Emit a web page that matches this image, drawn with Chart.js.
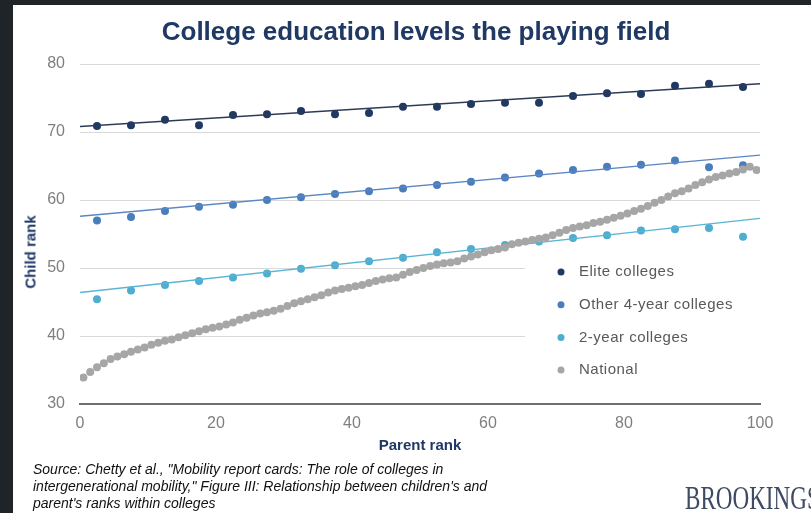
<!DOCTYPE html>
<html>
<head>
<meta charset="utf-8">
<script src="https://cdn.jsdelivr.net/npm/chart.js@4.4.1/dist/chart.umd.min.js"></script>
<style>
  html, body { margin: 0; padding: 0; }
  body { width: 811px; height: 513px; background: #1e2427; position: relative; overflow: hidden; }
  #panel { position: absolute; left: 13px; top: 5px; right: 0; bottom: 0; background: #fff; }
  #wrap { position: absolute; left: 0; top: 0; width: 811px; height: 513px; }
  .title { position: absolute; left: 0; width: 832px; top: 16px; line-height: 30px; text-align: center;
           font: bold 26px "Liberation Sans", Arial, sans-serif; color: #1f3864; }
  .ytitle { position: absolute; left: 30px; top: 252px; transform: translate(-50%, -50%) rotate(-90deg);
            font: bold 15px "Liberation Sans", Arial, sans-serif; color: #1f3864; white-space: nowrap; }
  .source { position: absolute; left: 33px; top: 461px; font: italic 14px "Liberation Sans", Arial, sans-serif;
            line-height: 17px; color: #111; }
  .logo { position: absolute; left: 685px; top: 482px; font: 33px "Liberation Serif", serif; color: #3d4b63;
          transform: scaleX(0.7); transform-origin: left top; white-space: nowrap; line-height: 33px; }
</style>
</head>
<body>
<div id="panel"></div>
<div id="wrap"><canvas id="chart" width="811" height="513"></canvas></div>
<div class="title">College education levels the playing field</div>
<div class="ytitle">Child rank</div>
<div class="source">Source: Chetty et al., "Mobility report cards: The role of colleges in<br>intergenerational mobility," Figure III: Relationship between children's and<br>parent's ranks within colleges</div>
<div class="logo">BROOKINGS</div>
<script>
// parent rank bins used for the college groups (5-point bins)
const BIN_CENTERS = [2.5, 7.5, 12.5, 17.5, 22.5, 27.5, 32.5, 37.5, 42.5, 47.5,
                     52.5, 57.5, 62.5, 67.5, 72.5, 77.5, 82.5, 87.5, 92.5, 97.5];

const ELITE = [70.9, 71.0, 71.8, 71.0, 72.5, 72.6, 73.1, 72.6, 72.8, 73.7,
               73.7, 74.1, 74.3, 74.3, 75.3, 75.7, 75.6, 76.8, 77.1, 76.6];
const OTHER_4YR = [57.0, 57.5, 58.4, 59.0, 59.3, 60.0, 60.4, 60.9, 61.3, 61.7,
                   62.2, 62.7, 63.3, 63.9, 64.4, 64.9, 65.2, 65.8, 64.8, 65.1];
const TWO_YEAR = [45.4, 46.7, 47.5, 48.1, 48.6, 49.2, 49.9, 50.4, 51.0, 51.5,
                  52.3, 52.8, 53.4, 53.9, 54.4, 54.8, 55.5, 55.7, 55.9, 54.6];

// national: one point per parent percentile (plotted at the percentile midpoint)
const NATIONAL_RANKS = [0.5, 1.5, 2.5, 3.5, 4.5, 5.5, 6.5, 7.5, 8.5, 9.5,
  10.5, 11.5, 12.5, 13.5, 14.5, 15.5, 16.5, 17.5, 18.5, 19.5,
  20.5, 21.5, 22.5, 23.5, 24.5, 25.5, 26.5, 27.5, 28.5, 29.5,
  30.5, 31.5, 32.5, 33.5, 34.5, 35.5, 36.5, 37.5, 38.5, 39.5,
  40.5, 41.5, 42.5, 43.5, 44.5, 45.5, 46.5, 47.5, 48.5, 49.5,
  50.5, 51.5, 52.5, 53.5, 54.5, 55.5, 56.5, 57.5, 58.5, 59.5,
  60.5, 61.5, 62.5, 63.5, 64.5, 65.5, 66.5, 67.5, 68.5, 69.5,
  70.5, 71.5, 72.5, 73.5, 74.5, 75.5, 76.5, 77.5, 78.5, 79.5,
  80.5, 81.5, 82.5, 83.5, 84.5, 85.5, 86.5, 87.5, 88.5, 89.5,
  90.5, 91.5, 92.5, 93.5, 94.5, 95.5, 96.5, 97.5, 98.5, 99.5];
const NATIONAL = [33.9, 34.7, 35.4, 36.0, 36.6, 37.0, 37.3, 37.7, 38.0, 38.3,
  38.7, 39.0, 39.3, 39.5, 39.8, 40.1, 40.4, 40.7, 41.0, 41.2,
  41.4, 41.7, 42.0, 42.4, 42.7, 43.0, 43.3, 43.5, 43.7, 44.0,
  44.4, 44.8, 45.1, 45.4, 45.7, 46.0, 46.4, 46.7, 46.9, 47.1,
  47.3, 47.5, 47.8, 48.1, 48.3, 48.5, 48.6, 49.0, 49.4, 49.7,
  50.0, 50.3, 50.5, 50.7, 50.8, 51.0, 51.4, 51.7, 52.0, 52.3,
  52.6, 52.8, 53.0, 53.5, 53.7, 53.9, 54.1, 54.3, 54.5, 54.8,
  55.2, 55.6, 55.9, 56.1, 56.3, 56.6, 56.8, 57.1, 57.4, 57.7,
  58.0, 58.4, 58.7, 59.1, 59.6, 60.0, 60.5, 61.0, 61.3, 61.7,
  62.2, 62.6, 63.0, 63.4, 63.6, 63.9, 64.1, 64.5, 64.9, 64.4];

// linear trend lines, value at parent rank 0 and 100
const TREND_X = [0, 100];
const ELITE_TREND = [70.8, 77.1];
const OTHER_TREND = [57.6, 66.6];
const TWO_YEAR_TREND = [46.4, 57.3];

const X_TICKS = [0, 20, 40, 60, 80, 100];
const Y_TICKS = [30, 40, 50, 60, 70, 80];

const LEGEND_ORDER = ['Elite colleges', 'Other 4-year colleges', '2-year colleges', 'National'];

const COLORS = {
  elite: '#1f3864',
  other: '#4a7ebb',
  two:   '#4fadcf',
  nat:   '#a6a6a6',
};

const pts = (xs, ys) => ys.map((y, i) => ({ x: xs[i], y }));

function scatter(label, xs, ys, color, order) {
  return {
    type: 'scatter', label, data: pts(xs, ys), order,
    backgroundColor: color, borderWidth: 0, pointRadius: 4, pointHoverRadius: 4,
  };
}

function trend(xs, ys, color) {
  return {
    type: 'line', label: '', data: pts(xs, ys), order: 1,
    borderColor: color, borderWidth: 1.4, pointRadius: 0, fill: false, showLine: true,
  };
}

// legend box drawn inside plot area, white background hides the grid
const insideLegend = {
  id: 'insideLegend',
  beforeDatasetsDraw(chart) {
    const ctx = chart.ctx, a = chart.chartArea;
    ctx.save();
    ctx.fillStyle = '#fff';
    ctx.fillRect(525, 255, a.right - 525 + 1, 130);
    ctx.restore();
  },
  afterDraw(chart) {
    const ctx = chart.ctx;
    ctx.save();
    ctx.font = '15px "Liberation Sans", Arial, sans-serif';
    ctx.letterSpacing = '0.5px';
    ctx.textBaseline = 'middle';
    LEGEND_ORDER.forEach((name, i) => {
      const ds = chart.data.datasets.find(d => d.label === name);
      const y = 272 + i * 32.7;
      ctx.beginPath();
      ctx.fillStyle = ds.backgroundColor;
      ctx.arc(561, y, 3.5, 0, Math.PI * 2);
      ctx.fill();
      ctx.fillStyle = '#595959';
      ctx.fillText(name, 579, y);
    });
    ctx.restore();
  },
};

const tickFont = { family: '"Liberation Sans Narrow", "Liberation Sans", Arial, sans-serif', size: 16 };

new Chart(document.getElementById('chart'), {
  data: {
    datasets: [
      scatter('National', NATIONAL_RANKS, NATIONAL, COLORS.nat, 0),
      trend(TREND_X, ELITE_TREND, '#2c3b55'),
      trend(TREND_X, OTHER_TREND, '#5b86c4'),
      trend(TREND_X, TWO_YEAR_TREND, '#5ab4d4'),
      scatter('Elite colleges', BIN_CENTERS, ELITE, COLORS.elite, 2),
      scatter('Other 4-year colleges', BIN_CENTERS, OTHER_4YR, COLORS.other, 2),
      scatter('2-year colleges', BIN_CENTERS, TWO_YEAR, COLORS.two, 2),
    ],
  },
  options: {
    responsive: false,
    animation: false,
    devicePixelRatio: 1,
    layout: { padding: { top: 64, right: 51, bottom: 58, left: 0 } },
    plugins: { legend: { display: false }, tooltip: { enabled: false } },
    scales: {
      x: {
        type: 'linear', min: 0, max: 100,
        afterFit: s => { s.height = 51; },
        afterBuildTicks: s => { s.ticks = X_TICKS.map(v => ({ value: v })); },
        grid: { display: false, drawTicks: false },
        border: { display: true, color: '#6e6e6e', width: 2 },
        ticks: { color: '#7f7f7f', font: tickFont, padding: 10, maxRotation: 0 },
        title: { display: true, text: 'Parent rank', color: '#1f3864', padding: 0,
                 font: { family: '"Liberation Sans", Arial, sans-serif', size: 15, weight: 'bold' } },
      },
      y: {
        min: 30, max: 80,
        afterFit: s => { s.width = 80; },
        afterBuildTicks: s => { s.ticks = Y_TICKS.map(v => ({ value: v })); },
        grid: { color: '#d9d9d9', lineWidth: 1, drawTicks: false },
        border: { display: false },
        ticks: { color: '#7f7f7f', font: tickFont, padding: 15 },
      },
    },
  },
  plugins: [insideLegend],
});
</script>
</body>
</html>
